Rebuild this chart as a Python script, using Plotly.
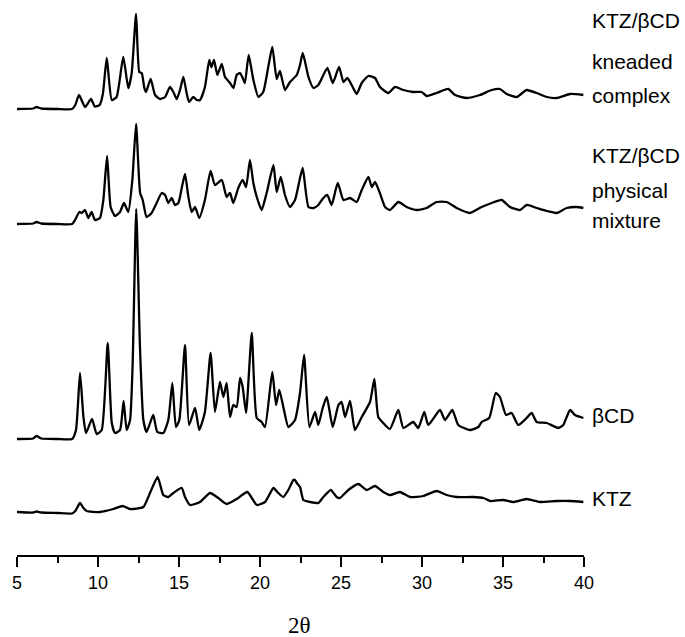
import plotly.graph_objects as go

# ---------------- data (2θ in degrees, intensity in arbitrary units above each baseline) ----------------
ktz_x = [5.0, 6.0, 6.2, 6.5, 7.5, 8.4, 8.6, 8.89, 9.1, 9.3, 10.12, 10.95, 11.52, 11.98, 12.8, 13.21, 13.68,
         14.03, 14.34, 14.65, 15.17, 15.37, 15.68, 16.3, 16.91, 17.43, 17.94, 18.56, 19.22, 19.8, 20.31,
         20.83, 21.13, 21.44, 21.75, 22.06, 22.16, 22.27, 22.47, 22.68, 23.09, 23.6, 23.91, 24.37, 24.73,
         24.94, 25.45, 26.07, 26.59, 27.1, 27.61, 28.02, 28.64, 29.26, 30.08, 30.9, 31.52, 32.14, 33.17,
         33.79, 34.2, 35.02, 35.64, 36.46, 37.28, 38.31, 39.14, 39.96]
ktz_y = [1, 0.5, 1.5, 0.5, 0, -0.5, 2, 10, 5, 2, 1, 4, 7, 4, 6, 20, 36,
         18, 16, 20, 25, 16, 8, 11, 20, 15, 9, 14, 21, 8, 11,
         25, 20, 16, 23, 33, 33, 30, 26, 13, 11, 10, 16, 23, 16,
         15, 23, 29, 23, 27, 21, 18, 21, 16, 17, 22, 18, 16, 16,
         15, 12, 13, 11, 14, 11, 12, 12, 11]

bcd_x = [5.0, 6.0, 6.2, 6.5, 7.5, 8.4, 8.64, 8.89, 9.1, 9.26, 9.63, 9.92, 10.23, 10.6, 10.85, 11.05,
         11.36, 11.58, 11.77, 11.98, 12.14, 12.36, 12.59, 12.8, 13.0, 13.41, 13.66, 14.03, 14.34, 14.59,
         14.81, 15.02, 15.37, 15.62, 15.99, 16.25, 16.6, 16.95, 17.22, 17.53, 17.74, 17.94, 18.15, 18.35,
         18.56, 18.77, 18.93, 19.14, 19.49, 19.8, 20.1, 20.31, 20.76, 20.99, 21.19, 21.44, 21.75, 22.16,
         22.47, 22.72, 23.05, 23.4, 23.6, 23.87, 24.12, 24.49, 24.84, 25.04, 25.25, 25.56, 25.86, 26.28,
         26.79, 27.06, 27.3, 27.61, 28.02, 28.54, 28.85, 29.46, 29.77, 30.14, 30.39, 31.11, 31.42, 31.87,
         32.24, 32.96, 33.48, 33.68, 34.15, 34.55, 34.81, 35.19, 35.53, 35.94, 36.46, 36.77, 37.08, 37.7,
         38.41, 38.72, 39.14, 39.44, 39.96]
bcd_y = [0, 0.5, 3, 0.5, 0, 0, 9, 66, 22, 6, 20, 5, 9, 96, 16, 6,
         9, 38, 9, 19, 76, 230, 92, 19, 7, 24, 7, 6, 19, 56,
         12, 19, 94, 14, 31, 9, 27, 86, 27, 57, 42, 56, 22, 34,
         32, 61, 52, 26, 106, 21, 17, 12, 67, 34, 49, 32, 12, 19,
         46, 84, 12, 27, 14, 31, 42, 12, 34, 37, 22, 38, 9, 22,
         37, 60, 22, 16, 10, 29, 11, 17, 11, 27, 14, 29, 19, 29,
         14, 9, 12, 17, 21, 46, 42, 24, 26, 14, 21, 26, 17, 16,
         11, 14, 29, 24, 21]

pm_x = [5.0, 6.0, 6.2, 6.5, 7.5, 8.4, 8.58, 8.85, 9.0, 9.2, 9.4, 9.61, 9.81, 10.12, 10.33, 10.56, 10.78,
        11.05, 11.36, 11.6, 11.87, 12.12, 12.35, 12.6, 12.76, 13.0, 13.31, 13.62, 13.93, 14.14, 14.34,
        14.55, 14.75, 14.96, 15.17, 15.37, 15.58, 15.78, 15.99, 16.25, 16.6, 16.95, 17.22, 17.64, 17.94,
        18.15, 18.35, 18.66, 18.93, 19.14, 19.38, 19.59, 19.8, 20.1, 20.41, 20.83, 21.03, 21.28, 21.54,
        21.85, 22.16, 22.47, 22.64, 22.99, 23.3, 23.6, 23.91, 24.16, 24.42, 24.8, 25.15, 25.56, 25.97,
        26.28, 26.69, 26.9, 27.1, 27.4, 27.72, 28.02, 28.54, 29.05, 29.67, 30.29, 30.9, 31.52, 32.14,
        32.96, 33.68, 34.3, 34.92, 35.43, 36.05, 36.46, 37.08, 37.7, 38.31, 38.93, 39.55, 39.96]
pm_y = [0, 0.5, 2, 0.5, 0, 0, 4, 12, 11, 14, 6, 12, 4, 6, 24, 68, 17,
        8, 12, 21, 12, 44, 100, 31, 24, 7, 11, 21, 31, 29, 21,
        26, 19, 21, 36, 50, 27, 12, 17, 6, 24, 53, 39, 44, 27,
        31, 21, 36, 44, 37, 64, 41, 27, 14, 31, 59, 32, 47, 29,
        17, 24, 46, 56, 17, 16, 19, 26, 29, 19, 41, 24, 26, 22,
        34, 47, 37, 42, 31, 17, 14, 22, 17, 14, 16, 22, 22, 16,
        11, 17, 21, 24, 17, 14, 19, 16, 13, 11, 16, 17, 16]

kc_x = [5.0, 6.0, 6.2, 6.5, 7.5, 8.4, 8.6, 8.83, 9.2, 9.57, 9.8, 10.1, 10.3, 10.54, 10.85, 11.15, 11.56,
        11.87, 12.08, 12.35, 12.55, 12.7, 12.86, 12.96, 13.25, 13.52, 13.83, 14.14, 14.44, 14.65, 14.86,
        15.06, 15.27, 15.47, 15.62, 15.88, 16.09, 16.3, 16.6, 16.87, 17.0, 17.16, 17.37, 17.64, 17.84,
        18.15, 18.36, 18.56, 18.77, 18.93, 19.07, 19.3, 19.59, 19.9, 20.2, 20.51, 20.76, 21.03, 21.23,
        21.54, 21.85, 22.27, 22.47, 22.64, 22.99, 23.3, 23.6, 24.16, 24.49, 24.88, 25.15, 25.39, 25.66,
        25.97, 26.28, 26.69, 27.1, 27.4, 27.92, 28.33, 28.85, 29.46, 29.98, 30.29, 30.9, 31.62, 32.04,
        32.76, 33.58, 34.3, 34.81, 35.23, 35.85, 36.46, 37.08, 37.7, 38.31, 39.14, 39.96]
kc_y = [0, 0.5, 2, 0.5, 0, 0, 4, 14, 2, 10, 2.5, 4, 15, 51, 9, 12, 52,
        21, 36, 95, 37, 36, 21, 17, 30, 14, 10, 12, 22, 17, 10,
        19, 32, 16, 7, 12, 9, 9, 22, 49, 42, 49, 34, 45, 32,
        26, 21, 34, 36, 31, 26, 54, 29, 12, 17, 42, 62, 30, 38,
        19, 27, 34, 44, 56, 32, 21, 24, 41, 26, 42, 27, 31, 24,
        15, 26, 33, 31, 22, 16, 22, 19, 17, 17, 13, 16, 20, 14,
        11, 14, 19, 20, 15, 12, 19, 16, 12, 11, 15, 14]

x_ticks = [5, 10, 15, 20, 25, 30, 35, 40]
x_title = "2θ"

# vertical stacking offsets of the four patterns (display layout)
offsets = {"KTZ": 0, "βCD": 74, "PM": 289, "KC": 404}

fig = go.Figure()
line = dict(color="black", width=2.3, shape="spline", smoothing=0.5)
for xs, ys, key in [(ktz_x, ktz_y, "KTZ"), (bcd_x, bcd_y, "βCD"), (pm_x, pm_y, "PM"), (kc_x, kc_y, "KC")]:
    fig.add_trace(go.Scatter(x=xs, y=[v + offsets[key] for v in ys], mode="lines",
                             line=line, showlegend=False, hoverinfo="skip"))

font_lbl = dict(family="Liberation Sans, Arial, sans-serif", size=21, color="black")
labels = [
    ("KTZ/βCD", 0.9727), ("kneaded", 0.898), ("complex", 0.836),
    ("KTZ/βCD", 0.727), ("physical", 0.662), ("mixture", 0.609),
    ("βCD", 0.2545), ("KTZ", 0.1036),
]
for txt, yp in labels:
    fig.add_annotation(x=1.0106, y=yp, xref="paper", yref="paper", text=txt, showarrow=False,
                       xanchor="left", yanchor="middle", font=font_lbl)

fig.add_annotation(x=0.499, y=-0.129, xref="paper", yref="paper", text=x_title, showarrow=False,
                   xanchor="center", yanchor="middle",
                   font=dict(family="Liberation Serif, Times New Roman, serif", size=23, color="black"))

fig.update_layout(
    width=685, height=637,
    margin=dict(l=17, r=101, t=5, b=82),
    plot_bgcolor="white", paper_bgcolor="white",
    xaxis=dict(range=[5, 40], tickvals=x_ticks, ticktext=[str(t) for t in x_ticks],
               showline=True, linecolor="black", linewidth=2, ticks="outside", ticklen=10,
               tickwidth=2, tickcolor="black", showgrid=False, zeroline=False,
               tickfont=dict(family="Liberation Sans, Arial, sans-serif", size=18, color="black"),
               minor=dict(ticks="outside", ticklen=6, tickwidth=2, tickcolor="black",
                          tickvals=[7.5, 12.5, 17.5, 22.5, 27.5, 32.5, 37.5], showgrid=False)),
    yaxis=dict(range=[-42, 508], visible=False, showgrid=False, zeroline=False),
)

fig.write_html("out.html", config={"displayModeBar": False},
               post_script="document.body.style.margin='0';document.body.style.padding='0';")
